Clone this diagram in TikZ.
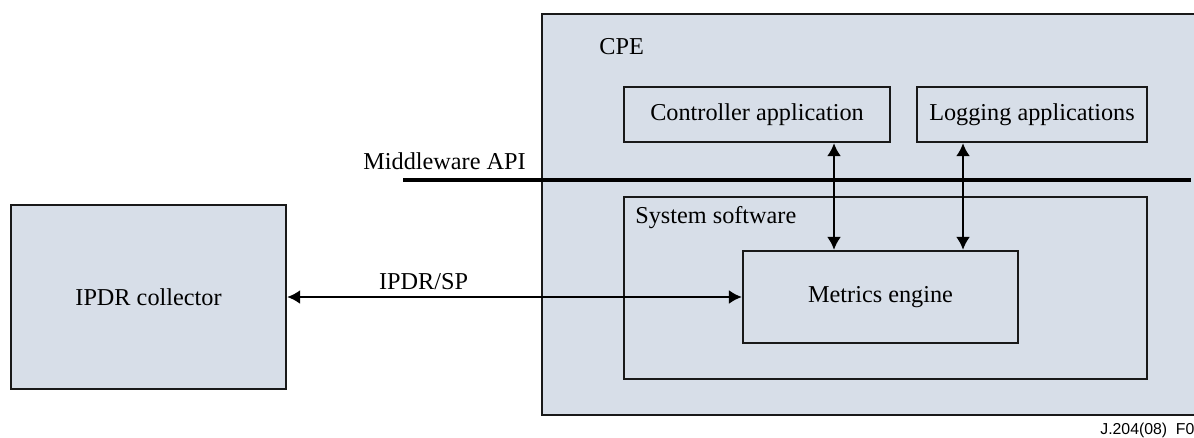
\documentclass[tikz,border=0pt]{standalone}
\usepackage{fontspec}
\setmainfont{Liberation Serif}
\newfontfamily\figfont{Liberation Sans}
\usepackage{xcolor}
\usetikzlibrary{arrows.meta, positioning, calc}
\definecolor{boxfill}{RGB}{215,222,232}
\tikzset{
    block/.style={draw=black!90, line width=1.3pt, fill=boxfill, inner sep=0pt},
    inner/.style={draw=black!90, line width=1.3pt, inner sep=0pt},
    link/.style={<->, line width=1.3pt, >={Latex[length=2.6mm,width=2.8mm]}},
}
\begin{document}
\begin{tikzpicture}[font=\fontsize{13.8}{16}\selectfont]
    \useasboundingbox (0,0) rectangle (23.88,-8.74);

    % Boxes
    \node[block, minimum width=5.5cm, minimum height=3.68cm] (collector) at (2.97,-5.94) {IPDR collector};
    \node[block, minimum width=13.16cm, minimum height=8.02cm] (cpe) at (17.42,-4.29) {};
    \node[inner, minimum width=5.32cm, minimum height=1.1cm] (ctrl) at (15.14,-2.29) {Controller application};
    \node[inner, minimum width=4.6cm, minimum height=1.1cm] (logging) at (20.64,-2.29) {Logging applications};
    \node[inner, minimum width=10.46cm, minimum height=3.64cm] (syssw) at (17.71,-5.76) {};
    \node[inner, minimum width=5.5cm, minimum height=1.84cm] (metrics) at (17.61,-5.94) {Metrics engine};

    % Labels
    \node[anchor=base west, inner sep=0pt] (cpelabel) at (11.98,-1.08) {CPE};
    \node[anchor=base west, inner sep=0pt] (syslabel) at (12.70,-4.46) {System software};

    % Middleware API
    \coordinate (mwstart) at (8.06,-3.6);
    \coordinate (mwend) at (23.82,-3.6);
    \draw[line width=1.8pt] (mwstart) -- (mwend);
    \node[anchor=base west, inner sep=0pt] (mwlabel) at (7.26,-3.38) {Middleware API};

    % Arrows
    \coordinate (ctrlx) at (16.68,0);
    \coordinate (logx) at (19.26,0);
    \draw[link] (collector) -- node[pos=0.3, above] {IPDR/SP} (metrics);
    \draw[link] (ctrl.south -| ctrlx) -- (metrics.north -| ctrlx);
    \draw[link] (logging.south -| logx) -- (metrics.north -| logx);

    % Figure number
    \node[anchor=base west, inner sep=0pt, font=\figfont\fontsize{9}{10}\selectfont] (fignum) at (22.0,-8.68) {J.204(08)\ \ F0};
\end{tikzpicture}
\end{document}
